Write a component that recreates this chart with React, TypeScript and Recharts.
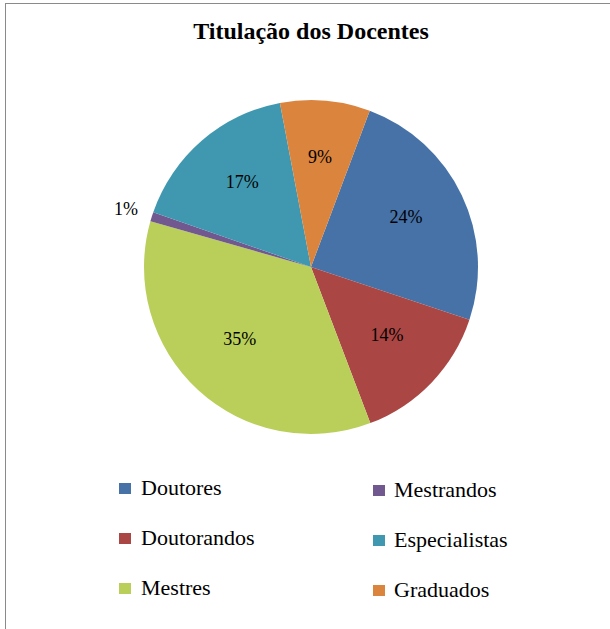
import React from "react";
import { PieChart, Pie, Cell, Legend } from "recharts";

const categories = ["Doutores", "Doutorandos", "Mestres", "Mestrandos", "Especialistas", "Graduados"];
const values = [24.4, 14.1, 35.2, 0.9, 16.7, 8.7];
const colors = ["#4672A8", "#AA4643", "#BACF5A", "#71588F", "#3F98AF", "#DB843D"];
const title = "Titulação dos Docentes";

const data = categories.map((name, i) => ({ name, value: values[i] }));

const FONT = "'Liberation Serif', 'Times New Roman', serif";
const RADIAN = Math.PI / 180;

const renderLabel = (props: any) => {
  const { cx, cy, midAngle, outerRadius, percent } = props;
  const outside = percent < 0.03;
  const r = outside ? outerRadius + 27 : outerRadius * 0.63;
  const x = cx + r * Math.cos(-midAngle * RADIAN);
  const y = cy + r * Math.sin(-midAngle * RADIAN) - (outside ? 0 : 5);
  return (
    <text
      x={x}
      y={y}
      textAnchor="middle"
      dominantBaseline="central"
      fontFamily={FONT}
      fontSize={18}
      fill="#000"
    >
      {`${Math.round(percent * 100)}%`}
    </text>
  );
};

const renderLegend = () => {
  return (
    <div style={{ position: "relative", width: 610, height: 140 }}>
      {categories.map((name, i) => {
        const col = Math.floor(i / 3);
        const row = i % 3;
        const left = col === 0 ? 119 : 373;
        const top = row * 50 + (col === 0 ? 0 : 2);
        return (
          <div
            key={name}
            style={{
              position: "absolute",
              left,
              top,
              height: 24,
              display: "flex",
              alignItems: "center",
              fontFamily: FONT,
              fontSize: 22,
              color: "#000",
              whiteSpace: "nowrap",
            }}
          >
            <span
              style={{
                display: "inline-block",
                width: 12,
                height: 11,
                background: colors[i],
                marginRight: col === 0 ? 10 : 9,
              }}
            />
            <span>{name}</span>
          </div>
        );
      })}
    </div>
  );
};

export default function App() {
  return (
    <div style={{ position: "absolute", left: 0, top: 0, width: 610, height: 629, background: "#fff", overflow: "hidden" }}>
      <div
        style={{
          position: "absolute",
          left: 5,
          top: 3,
          width: 640,
          height: 660,
          border: "1px solid #8a8a8a",
          boxSizing: "border-box",
        }}
      />
      <div
        style={{
          position: "absolute",
          left: 0,
          top: 17,
          width: 622,
          textAlign: "center",
          fontFamily: FONT,
          fontWeight: "bold",
          fontSize: 24,
          color: "#000",
          lineHeight: "28px",
        }}
      >
        {title}
      </div>
      <div style={{ position: "absolute", left: 0, top: 0 }}>
        <PieChart width={610} height={629} margin={{ top: 0, right: 0, bottom: 0, left: 0 }}>
          <Pie
            data={data}
            dataKey="value"
            nameKey="name"
            cx={311}
            cy={267}
            outerRadius={167}
            startAngle={69.4}
            endAngle={-290.6}
            stroke="none"
            label={renderLabel}
            labelLine={false}
            isAnimationActive={false}
          >
            {data.map((d, i) => (
              <Cell key={d.name} fill={colors[i]} />
            ))}
          </Pie>
          <Legend
            content={renderLegend}
            wrapperStyle={{ position: "absolute", left: 0, top: 476, width: 610 }}
          />
        </PieChart>
      </div>
    </div>
  );
}
